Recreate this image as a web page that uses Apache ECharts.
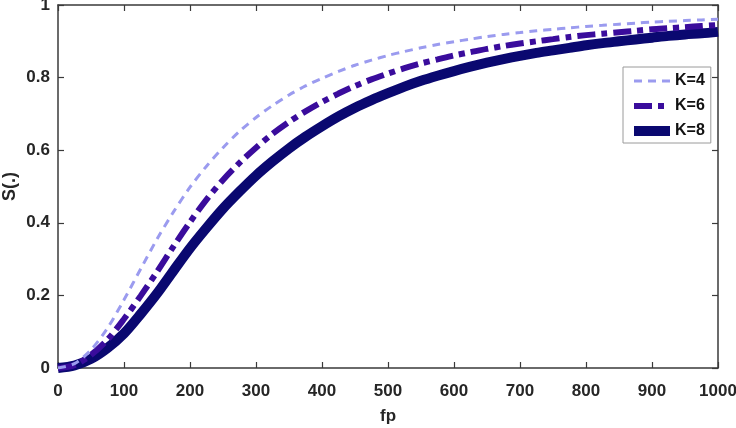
<!DOCTYPE html>
<html>
<head>
<meta charset="utf-8">
<script src="https://cdn.jsdelivr.net/npm/echarts@6/dist/echarts.min.js"></script>
<style>html,body{margin:0;padding:0;background:#fff}#c{width:736px;height:428px}</style>
</head>
<body>
<div id="c"></div>
<script>
var fp = [0,25,50,75,100,125,150,175,200,225,250,275,300,325,350,375,400,425,450,475,500,525,550,575,600,625,650,675,700,725,750,775,800,825,850,875,900,925,950,975,1000];
var k4 = [0,0.012,0.05,0.11,0.188,0.272,0.355,0.43,0.498,0.556,0.607,0.652,0.69,0.723,0.752,0.777,0.798,0.817,0.834,0.848,0.861,0.872,0.882,0.891,0.899,0.906,0.913,0.919,0.924,0.929,0.933,0.937,0.941,0.944,0.947,0.95,0.953,0.955,0.957,0.959,0.961];
var k6 = [0,0.008,0.036,0.078,0.135,0.198,0.265,0.335,0.402,0.464,0.518,0.565,0.607,0.645,0.678,0.707,0.733,0.756,0.777,0.795,0.811,0.826,0.839,0.85,0.861,0.87,0.879,0.887,0.894,0.9,0.906,0.912,0.917,0.921,0.925,0.929,0.933,0.936,0.939,0.942,0.945];
var k8 = [0,0.007,0.025,0.055,0.095,0.148,0.205,0.268,0.33,0.386,0.439,0.486,0.53,0.569,0.605,0.637,0.666,0.693,0.717,0.738,0.757,0.775,0.791,0.805,0.818,0.83,0.841,0.851,0.86,0.868,0.875,0.882,0.889,0.895,0.9,0.905,0.91,0.915,0.919,0.922,0.926];
var names = ['K=4','K=6','K=8'];
var colors = ['#9b9bef','#3a0c9c','#0a0870'];

function pairs(ys){ return fp.map(function(x,i){ return [x, ys[i]]; }); }

var axisCol = '#3a3a3a';
var font = 'Liberation Sans, Arial, Helvetica, sans-serif';
function xAx(pos, show){
  return {type:'value', position:pos, min:0, max:1000, interval:100,
    axisLine:{show:true, onZero:false, lineStyle:{color:axisCol, width:1.5}},
    axisTick:{show:true, inside:true, length:6, lineStyle:{color:axisCol, width:1.2}},
    axisLabel:{show:show, color:'#262626', fontFamily:font, fontWeight:'bold', fontSize:17, margin:15,
      formatter:function(v){ return String(v); }},
    splitLine:{show:false},
    name: show ? 'fp' : '', nameLocation:'middle', nameGap:40, nameMoveOverlap:false,
    nameTextStyle:{color:'#262626', fontFamily:font, fontWeight:'bold', fontSize:17}};
}
function yAx(pos, show){
  return {type:'value', position:pos, min:0, max:1, interval:0.2,
    axisLine:{show:true, onZero:false, lineStyle:{color:axisCol, width:1.5}},
    axisTick:{show:true, inside:true, length:6, lineStyle:{color:axisCol, width:1.2}},
    axisLabel:{show:show, color:'#262626', fontFamily:font, fontWeight:'bold', fontSize:17, margin:8,
      formatter:function(v){ return String(Math.round(v*10)/10); }},
    splitLine:{show:false},
    name: show ? 'S(.)' : '', nameLocation:'middle', nameGap:39, nameMoveOverlap:false,
    nameTextStyle:{color:'#262626', fontFamily:font, fontWeight:'bold', fontSize:18}};
}

var chart = echarts.init(document.getElementById('c'), null, {renderer:'canvas'});
chart.setOption({
  animation:false,
  backgroundColor:'#fff',
  color:colors,
  grid:{left:58, right:18, top:5, bottom:60, containLabel:false, outerBoundsMode:'none'},
  xAxis:[xAx('bottom', true), xAx('top', false)],
  yAxis:[yAx('left', true), yAx('right', false)],
  legend:{
    data:names, orient:'vertical', left:623, top:67,
    itemWidth:36, itemHeight:14, itemGap:9,
    padding:[6,6,4,6],
    backgroundColor:'#fff', borderColor:'#9a9a9a', borderWidth:1,
    textStyle:{color:'#111', fontFamily:font, fontWeight:'bold', fontSize:16},
    lineStyle:{width:'inherit'},
    itemStyle:{opacity:0}
  },
  series:[
    {name:names[0], type:'line', data:pairs(k4), symbol:'none', smooth:0.3, z:3,
      itemStyle:{color:colors[0]},
      lineStyle:{color:colors[0], width:3, type:[8,6], cap:'butt'}},
    {name:names[1], type:'line', data:pairs(k6), symbol:'none', smooth:0.3, z:2,
      itemStyle:{color:colors[1]},
      lineStyle:{color:colors[1], width:6, type:[18,6,6,6], cap:'butt'}},
    {name:names[2], type:'line', data:pairs(k8), symbol:'none', smooth:0.3, z:1,
      itemStyle:{color:colors[2]},
      lineStyle:{color:colors[2], width:10, cap:'butt'}}
  ]
});
</script>
</body>
</html>
